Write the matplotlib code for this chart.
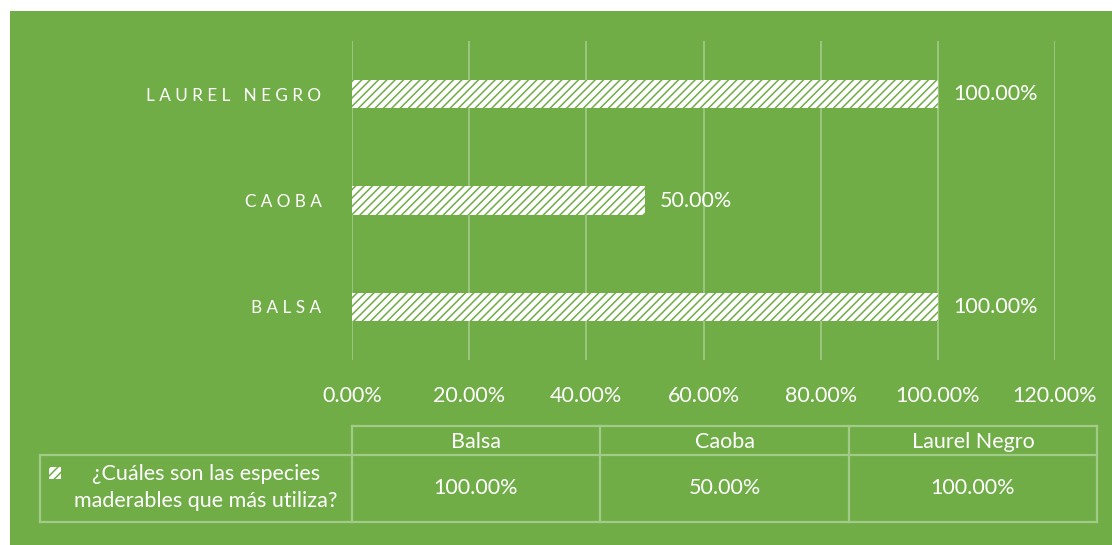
import matplotlib
matplotlib.use("Agg")
import matplotlib.pyplot as plt
from matplotlib.patches import Rectangle
import matplotlib as mpl

categories = ["Balsa", "Caoba", "Laurel Negro"]
values = [1.00, 0.50, 1.00]
xticks = [0, 0.2, 0.4, 0.6, 0.8, 1.0, 1.2]
series_name = "¿Cuáles son las especies\nmaderables que más utiliza?"

GREEN = "#70AD47"
GRID = "#A3CB88"
W, H = 1112, 545
mpl.rcParams['hatch.linewidth'] = 1.1
mpl.rcParams['font.family'] = ['Lato', 'DejaVu Sans']
FS = 15.5

fig = plt.figure(figsize=(W / 100, H / 100), dpi=100)
fig.patch.set_facecolor("white")
fig.add_artist(Rectangle((10 / W, 0), 1 - 10 / W, 1 - 11 / H, transform=fig.transFigure,
                         facecolor=GREEN, edgecolor="none", zorder=0))

def fx(px):
    return px / W

def fy(py):
    return 1 - py / H

def spaced(s):
    return "   ".join(" ".join(w) for w in s.upper().split(" "))

ax = fig.add_axes([fx(352), fy(360), fx(1055) - fx(352), (360 - 41) / H])
ax.set_facecolor("none")
for s in ax.spines.values():
    s.set_visible(False)
ypos = list(range(len(categories)))
ax.barh(ypos, values, height=0.265, color="white", edgecolor=GREEN,
        hatch="////", linewidth=0, zorder=3)
ax.set_xlim(0, 1.2)
ax.set_ylim(-0.5, len(categories) - 0.5)
ax.set_xticks(xticks)
ax.set_xticklabels([f"{t*100:.2f}%" for t in xticks], color="white", fontsize=FS)
ax.tick_params(axis="x", length=0, pad=19)
ax.set_yticks(ypos)
ax.set_yticklabels([spaced(c) for c in categories], color="white", fontsize=12.3)
ax.tick_params(axis="y", length=0, pad=22)
ax.grid(axis="x", color=GRID, linewidth=1.2, zorder=0)
for y, v in zip(ypos, values):
    ax.text(v + 0.026, y, f"{v*100:.2f}%", va="center", ha="left", color="white", fontsize=FS)

lc = GRID
lw = 1.6
def hline(x0, x1, y):
    fig.add_artist(plt.Line2D([fx(x0), fx(x1)], [fy(y), fy(y)], color=lc, lw=lw))
def vline(x, y0, y1):
    fig.add_artist(plt.Line2D([fx(x), fx(x)], [fy(y0), fy(y1)], color=lc, lw=lw))

cols = [352, 600, 849, 1097]
top, mid, bot = 426, 455, 522
hline(352, 1097, top)
hline(40, 1097, mid)
hline(40, 1097, bot)
vline(40, mid, bot)
for c in cols:
    vline(c, top, bot)
for i, cat in enumerate(categories):
    cx = (cols[i] + cols[i + 1]) / 2
    fig.text(fx(cx), fy((top + mid) / 2 + 1), cat, ha="center", va="center", color="white", fontsize=FS)
    fig.text(fx(cx), fy((mid + bot) / 2), f"{values[i]*100:.2f}%", ha="center", va="center",
             color="white", fontsize=FS)
fig.text(fx(206), fy((mid + bot) / 2 - 1), series_name, ha="center", va="center", color="white",
         fontsize=FS, linespacing=1.45)
fig.add_artist(Rectangle((fx(49), fy(479)), 12 / W, 12 / H, transform=fig.transFigure,
                         facecolor="white", edgecolor=GREEN, hatch="////", linewidth=0))

fig.savefig("out.png", dpi=100, facecolor=fig.get_facecolor())
